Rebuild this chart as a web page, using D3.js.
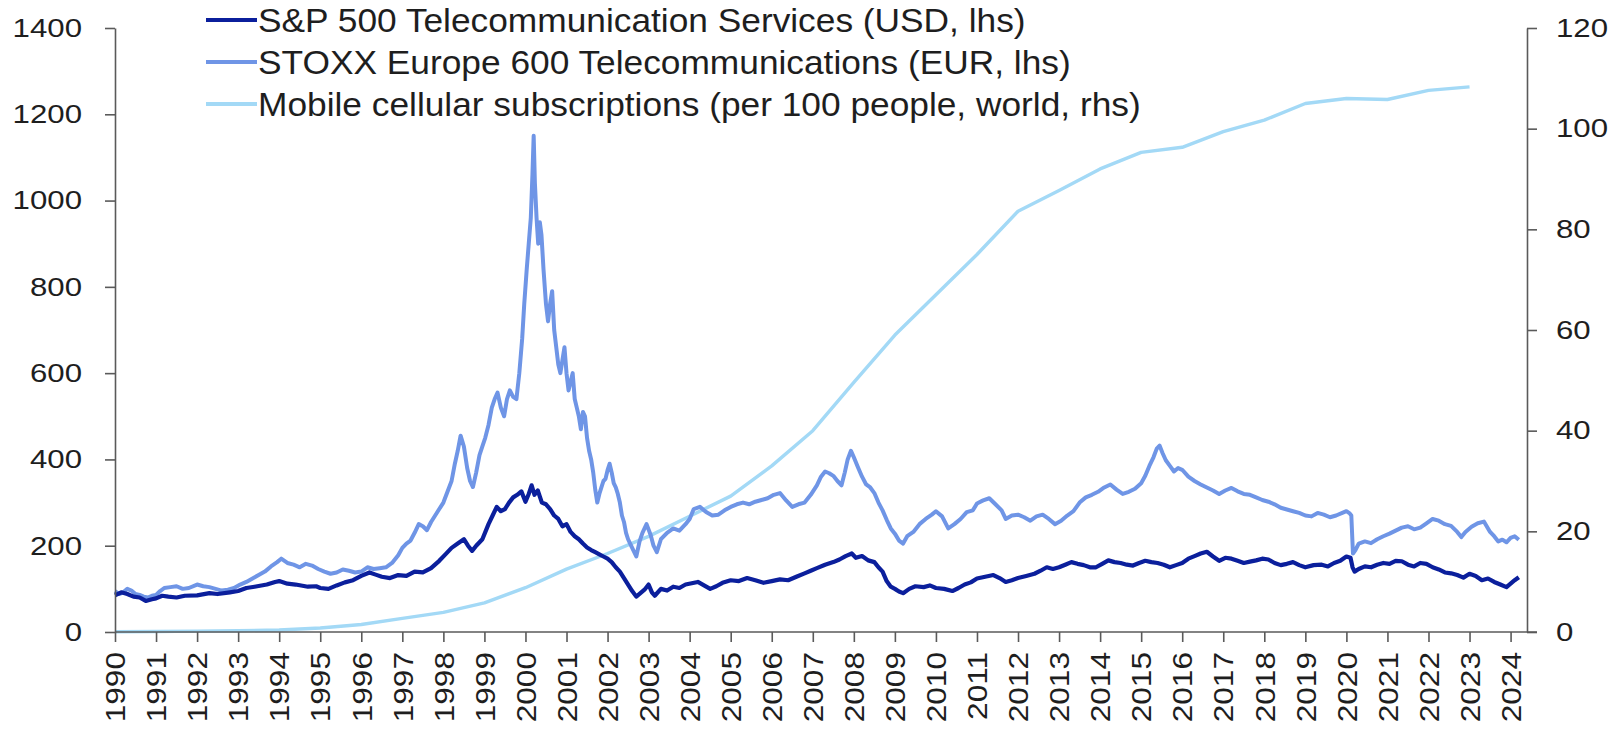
<!DOCTYPE html>
<html>
<head>
<meta charset="utf-8">
<script src="https://cdn.jsdelivr.net/npm/d3@7"></script>
<style>
  html, body { margin: 0; padding: 0; background: #ffffff; }
  svg { display: block; font-family: "Liberation Sans", Arial, Helvetica, sans-serif; }
</style>
</head>
<body>
<svg id="chart" width="1622" height="736"></svg>
<script>
// ---------- data (decimal year, value) ----------
const seriesNames = [
  "S&P 500 Telecommunication Services (USD, lhs)",
  "STOXX Europe 600 Telecommunications (EUR, lhs)",
  "Mobile cellular subscriptions (per 100 people, world, rhs)"
];
const seriesColors = ["#0b1f9c", "#6f95e6", "#a3d9f6"];

const sp500Telecom = [
  [1990.0,85],[1990.15,92],[1990.3,88],[1990.45,82],[1990.6,80],[1990.75,72],[1990.9,76],[1991.0,78],
  [1991.15,84],[1991.3,82],[1991.5,80],[1991.7,84],[1992.0,85],[1992.3,90],[1992.5,88],[1992.8,92],
  [1993.0,95],[1993.2,102],[1993.4,105],[1993.7,110],[1993.9,116],[1994.0,118],[1994.2,112],[1994.4,110],
  [1994.7,105],[1994.9,106],[1995.0,102],[1995.2,100],[1995.4,108],[1995.6,115],[1995.8,120],[1996.0,130],
  [1996.2,138],[1996.35,133],[1996.5,128],[1996.7,125],[1996.9,132],[1997.1,130],[1997.3,140],[1997.5,138],
  [1997.7,148],[1997.9,165],[1998.05,180],[1998.2,195],[1998.35,205],[1998.5,215],[1998.6,200],[1998.7,188],
  [1998.8,200],[1998.95,215],[1999.1,250],[1999.2,270],[1999.3,290],[1999.4,280],[1999.5,285],[1999.6,300],
  [1999.7,312],[1999.8,318],[1999.9,326],[2000.0,302],[2000.08,320],[2000.15,340],[2000.22,318],[2000.3,328],
  [2000.4,300],[2000.5,296],[2000.6,285],[2000.7,270],[2000.8,262],[2000.9,245],[2001.0,250],[2001.1,232],
  [2001.2,222],[2001.3,215],[2001.4,205],[2001.5,196],[2001.6,190],[2001.7,185],[2001.8,180],[2001.9,175],
  [2002.0,170],[2002.1,162],[2002.2,150],[2002.3,140],[2002.4,125],[2002.5,110],[2002.6,95],[2002.7,82],
  [2002.8,90],[2002.9,98],[2003.0,110],[2003.08,92],[2003.15,84],[2003.3,100],[2003.45,96],[2003.6,105],
  [2003.75,102],[2003.9,110],[2004.05,113],[2004.2,116],[2004.35,108],[2004.5,100],[2004.65,106],[2004.8,114],
  [2005.0,120],[2005.2,118],[2005.4,125],[2005.6,120],[2005.8,114],[2006.0,118],[2006.2,122],[2006.4,120],
  [2006.6,128],[2006.8,136],[2006.95,142],[2007.1,148],[2007.3,156],[2007.5,162],[2007.65,168],[2007.8,176],
  [2007.95,182],[2008.05,172],[2008.2,176],[2008.35,166],[2008.5,162],[2008.6,150],[2008.7,140],[2008.8,118],
  [2008.9,105],[2009.0,100],[2009.1,94],[2009.2,90],[2009.35,100],[2009.5,106],[2009.7,104],[2009.85,108],
  [2010.0,102],[2010.2,100],[2010.4,95],[2010.55,102],[2010.7,110],[2010.85,115],[2011.0,124],[2011.2,128],
  [2011.4,132],[2011.55,125],[2011.7,116],[2011.85,120],[2012.0,125],[2012.2,130],[2012.4,135],[2012.55,142],
  [2012.7,150],[2012.85,146],[2013.0,150],[2013.15,156],[2013.3,162],[2013.45,158],[2013.6,155],[2013.75,150],
  [2013.9,150],[2014.05,158],[2014.2,166],[2014.35,162],[2014.5,160],[2014.65,156],[2014.8,154],[2014.95,160],
  [2015.1,165],[2015.25,162],[2015.4,160],[2015.55,156],[2015.7,150],[2015.85,155],[2016.0,160],[2016.15,170],
  [2016.3,176],[2016.45,182],[2016.6,186],[2016.75,175],[2016.9,165],[2017.05,172],[2017.2,170],[2017.35,165],
  [2017.5,160],[2017.65,163],[2017.8,166],[2017.95,170],[2018.1,168],[2018.25,160],[2018.4,155],[2018.55,158],
  [2018.7,162],[2018.85,155],[2019.0,150],[2019.2,155],[2019.4,156],[2019.55,152],[2019.7,160],[2019.85,165],
  [2020.0,175],[2020.1,172],[2020.15,150],[2020.2,140],[2020.3,146],[2020.45,152],[2020.6,150],[2020.75,156],
  [2020.9,160],[2021.05,158],[2021.2,165],[2021.35,164],[2021.5,156],[2021.65,152],[2021.8,160],[2021.95,158],
  [2022.1,150],[2022.25,145],[2022.4,138],[2022.55,136],[2022.7,132],[2022.85,126],[2023.0,135],[2023.15,130],
  [2023.3,120],[2023.45,124],[2023.6,116],[2023.75,110],[2023.9,104],[2024.0,112],[2024.1,120],[2024.2,127]
];

const stoxxTelecom = [
  [1990.0,95],[1990.1,88],[1990.2,92],[1990.3,100],[1990.4,96],[1990.5,88],[1990.6,86],[1990.7,82],
  [1990.8,80],[1990.9,84],[1991.0,86],[1991.1,95],[1991.2,102],[1991.35,104],[1991.5,106],[1991.65,100],
  [1991.8,102],[1992.0,110],[1992.15,106],[1992.3,104],[1992.45,100],[1992.6,96],[1992.75,98],[1992.9,102],
  [1993.05,110],[1993.2,116],[1993.35,124],[1993.5,132],[1993.65,140],[1993.8,152],[1993.95,162],[1994.05,170],
  [1994.2,160],[1994.35,156],[1994.5,150],[1994.65,158],[1994.8,154],[1994.95,146],[1995.1,140],[1995.25,135],
  [1995.4,138],[1995.55,145],[1995.7,142],[1995.85,138],[1996.0,140],[1996.15,150],[1996.3,146],[1996.45,148],
  [1996.6,150],[1996.75,160],[1996.9,178],[1997.0,195],[1997.1,205],[1997.2,212],[1997.3,230],[1997.4,250],
  [1997.5,245],[1997.6,236],[1997.7,255],[1997.8,270],[1997.9,285],[1998.0,300],[1998.1,325],[1998.2,350],
  [1998.28,390],[1998.35,420],[1998.42,455],[1998.5,430],[1998.58,380],[1998.65,350],[1998.72,336],[1998.8,370],
  [1998.88,410],[1998.95,430],[1999.02,450],[1999.1,480],[1999.18,520],[1999.25,540],[1999.32,555],[1999.4,520],
  [1999.48,500],[1999.55,540],[1999.62,560],[1999.7,545],[1999.78,540],[1999.85,600],[1999.92,680],[1999.97,760],
  [2000.03,840],[2000.08,900],[2000.13,960],[2000.17,1060],[2000.2,1150],[2000.23,1040],[2000.27,960],[2000.31,900],
  [2000.35,950],[2000.39,920],[2000.44,840],[2000.5,760],[2000.55,720],[2000.6,760],[2000.65,790],[2000.7,700],
  [2000.75,660],[2000.8,620],[2000.85,600],[2000.9,630],[2000.95,660],[2001.0,600],[2001.05,560],[2001.1,580],
  [2001.15,600],[2001.2,540],[2001.25,520],[2001.3,500],[2001.35,470],[2001.4,510],[2001.45,500],[2001.5,450],
  [2001.55,420],[2001.6,400],[2001.65,370],[2001.7,330],[2001.75,300],[2001.8,320],[2001.85,335],[2001.9,350],
  [2001.95,355],[2002.0,375],[2002.05,390],[2002.1,370],[2002.15,345],[2002.2,335],[2002.25,320],[2002.3,300],
  [2002.35,270],[2002.4,255],[2002.45,230],[2002.5,215],[2002.55,205],[2002.6,195],[2002.65,185],[2002.7,175],
  [2002.78,210],[2002.85,230],[2002.95,250],[2003.05,225],[2003.12,200],[2003.2,185],[2003.3,215],[2003.45,230],
  [2003.6,240],[2003.75,235],[2003.9,250],[2004.0,262],[2004.1,285],[2004.25,290],[2004.4,278],[2004.55,270],
  [2004.7,272],[2004.85,282],[2005.0,290],[2005.15,296],[2005.3,300],[2005.45,296],[2005.6,302],[2005.75,306],
  [2005.9,310],[2006.05,318],[2006.2,322],[2006.35,305],[2006.5,290],[2006.65,296],[2006.8,300],[2006.95,318],
  [2007.1,340],[2007.2,360],[2007.3,372],[2007.4,368],[2007.5,362],[2007.6,350],[2007.7,340],[2007.78,370],
  [2007.85,400],[2007.93,420],[2008.0,405],[2008.1,382],[2008.2,360],[2008.3,342],[2008.4,335],[2008.5,322],
  [2008.6,300],[2008.7,282],[2008.8,260],[2008.9,240],[2009.0,228],[2009.1,212],[2009.2,205],[2009.3,222],
  [2009.45,232],[2009.6,250],[2009.75,262],[2009.9,272],[2010.0,280],[2010.15,268],[2010.3,240],[2010.45,250],
  [2010.6,262],[2010.75,278],[2010.9,282],[2011.0,298],[2011.15,305],[2011.3,310],[2011.45,296],[2011.6,282],
  [2011.7,262],[2011.85,270],[2012.0,272],[2012.15,266],[2012.3,258],[2012.45,268],[2012.6,272],[2012.75,262],
  [2012.9,250],[2013.05,258],[2013.2,270],[2013.35,280],[2013.5,300],[2013.65,312],[2013.8,318],[2013.95,325],
  [2014.1,335],[2014.25,342],[2014.4,330],[2014.55,320],[2014.7,325],[2014.85,332],[2015.0,345],[2015.1,362],
  [2015.2,385],[2015.3,405],[2015.38,425],[2015.45,432],[2015.52,415],[2015.6,398],[2015.7,385],[2015.8,372],
  [2015.9,380],[2016.0,376],[2016.15,360],[2016.3,350],[2016.45,342],[2016.6,335],[2016.75,328],[2016.9,320],
  [2017.05,328],[2017.2,334],[2017.35,326],[2017.5,320],[2017.65,318],[2017.8,312],[2017.95,306],[2018.1,302],
  [2018.25,296],[2018.4,288],[2018.55,284],[2018.7,280],[2018.85,276],[2019.0,270],[2019.15,268],[2019.3,276],
  [2019.45,272],[2019.6,266],[2019.75,270],[2019.9,276],[2020.0,280],[2020.08,275],[2020.12,270],[2020.16,182],
  [2020.22,190],[2020.3,205],[2020.45,210],[2020.6,206],[2020.75,215],[2020.9,222],[2021.05,228],[2021.2,235],
  [2021.35,242],[2021.5,245],[2021.65,238],[2021.8,242],[2021.95,252],[2022.1,262],[2022.25,258],[2022.4,250],
  [2022.55,246],[2022.7,232],[2022.8,220],[2022.9,232],[2023.05,244],[2023.2,252],[2023.35,256],[2023.5,232],
  [2023.6,222],[2023.7,210],[2023.8,214],[2023.9,208],[2024.0,218],[2024.1,222],[2024.2,214]
];

const mobileSubs = [
  [1990,0.05],[1991,0.1],[1992,0.18],[1993,0.25],[1994,0.4],[1995,0.8],[1996,1.5],[1997,2.7],[1998,3.9],
  [1999,5.8],[2000,8.8],[2001,12.5],[2002,15.6],[2003,19.0],[2004,23.0],[2005,27.0],[2006,33.0],[2007,40.0],
  [2008,49.6],[2009,59.0],[2010,67.0],[2011,75.0],[2012,83.6],[2013,87.7],[2014,92.0],[2015,95.3],[2016,96.3],
  [2017,99.4],[2018,101.7],[2019,105.0],[2020,106.0],[2021,105.8],[2022,107.6],[2023,108.3]
];

const yearTicks = [1990,1991,1992,1993,1994,1995,1996,1997,1998,1999,2000,2001,2002,2003,2004,2005,2006,
  2007,2008,2009,2010,2011,2012,2013,2014,2015,2016,2017,2018,2019,2020,2021,2022,2023,2024];
const leftTicks = [0,200,400,600,800,1000,1200,1400];
const rightTicks = [0,20,40,60,80,100,120];

// ---------- layout ----------
const svg = d3.select("#chart");
const plotLeft = 115, plotRight = 1527, plotTop = 28, plotBottom = 632;

const x = d3.scaleLinear().domain([1990, 2024.4]).range([plotLeft, plotRight]);
const yL = d3.scaleLinear().domain([0, 1400]).range([plotBottom, plotTop]);
const yR = d3.scaleLinear().domain([0, 120]).range([plotBottom, plotTop]);

const axisColor = "#5a5a5a";
const textColor = "#1e1e1e";

// lines
const lineL = d3.line().x(d => x(d[0])).y(d => yL(d[1]));
const lineR = d3.line().x(d => x(d[0])).y(d => yR(d[1]));

svg.append("path").datum(mobileSubs).attr("d", lineR)
  .attr("fill", "none").attr("stroke", seriesColors[2]).attr("stroke-width", 3.4)
  .attr("stroke-linejoin", "round");
svg.append("path").datum(stoxxTelecom).attr("d", lineL)
  .attr("fill", "none").attr("stroke", seriesColors[1]).attr("stroke-width", 4)
  .attr("stroke-linejoin", "round");
svg.append("path").datum(sp500Telecom).attr("d", lineL)
  .attr("fill", "none").attr("stroke", seriesColors[0]).attr("stroke-width", 4.2)
  .attr("stroke-linejoin", "round");

// axes
function styleAxis(g) {
  g.select(".domain").attr("stroke", axisColor).attr("stroke-width", 1.6);
  g.selectAll(".tick line").attr("stroke", axisColor).attr("stroke-width", 1.6);
  g.selectAll("text").attr("fill", textColor).attr("font-size", 26)
    .attr("font-family", "'Liberation Sans', Arial, sans-serif");
}

const gL = svg.append("g").attr("transform", `translate(${plotLeft},0)`)
  .call(d3.axisLeft(yL).tickValues(leftTicks).tickFormat(d3.format("d"))
    .tickSize(10).tickSizeOuter(0).tickPadding(23));
styleAxis(gL);
gL.selectAll(".tick text").each(function() {
  const t = d3.select(this);
  const tx = +t.attr("x");
  t.attr("x", 0).attr("transform", `translate(${tx},0) scale(1.2,1)`);
});

const gR = svg.append("g").attr("transform", `translate(${plotRight},0)`)
  .call(d3.axisRight(yR).tickValues(rightTicks).tickFormat(d3.format("d"))
    .tickSize(10).tickSizeOuter(0).tickPadding(19));
styleAxis(gR);
gR.selectAll(".tick text").each(function() {
  const t = d3.select(this);
  const tx = +t.attr("x");
  t.attr("x", 0).attr("transform", `translate(${tx},0) scale(1.2,1)`);
});

const gB = svg.append("g").attr("transform", `translate(0,${plotBottom})`)
  .call(d3.axisBottom(x).tickValues(yearTicks).tickFormat(d3.format("d")).tickSize(10).tickSizeOuter(0));
styleAxis(gB);
gB.select(".domain").attr("d", `M${plotLeft},0H${plotRight + 10}`);
gB.selectAll(".tick text")
  .attr("font-size", 27)
  .attr("x", 0).attr("y", 0).attr("dy", "0.36em")
  .attr("text-anchor", "end")
  .attr("transform", "translate(0,20) rotate(-90) scale(1.17,1)");

// legend
const legend = svg.append("g");
const legendRows = [20, 62, 104];
seriesNames.forEach((name, i) => {
  legend.append("line")
    .attr("x1", 206).attr("x2", 257)
    .attr("y1", legendRows[i]).attr("y2", legendRows[i])
    .attr("stroke", seriesColors[i]).attr("stroke-width", 4);
  legend.append("text")
    .attr("transform", `translate(258,${legendRows[i]}) scale(1.07,1)`)
    .attr("dy", "0.36em")
    .attr("font-size", 33)
    .attr("fill", textColor)
    .text(name);
});
</script>
</body>
</html>
